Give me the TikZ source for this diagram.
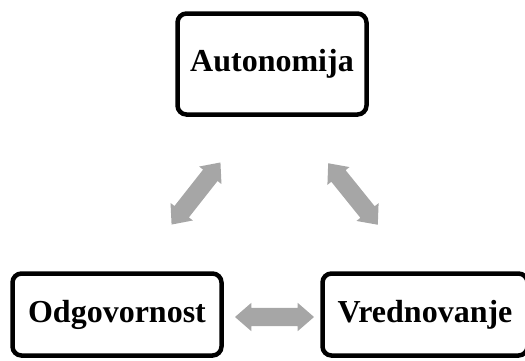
\documentclass[tikz,border=0pt]{standalone}
\usepackage{fontspec}
\setmainfont{Liberation Serif}
\usetikzlibrary{shapes.arrows}
\definecolor{arrgray}{HTML}{A6A6A6}
\tikzset{
  box/.style={draw=black, line width=4.5pt, rounded corners=9pt, fill=white,
    font=\fontsize{32}{36}\selectfont\bfseries, inner sep=0pt},
  blockarrow/.style={double arrow, fill=arrgray, draw=none, inner xsep=0pt, inner ysep=9pt,
    minimum height=79pt, minimum width=28pt, double arrow head extend=5pt,
    double arrow tip angle=82},
}
\begin{document}
\begin{tikzpicture}[x=1pt,y=-1pt]
\useasboundingbox (0,0) rectangle (525,360);
\begin{scope}
\clip (0,0) rectangle (525,360);
\node[box, minimum width=189pt, minimum height=101pt] (aut) at (272,64) {Autonomija};
\node[box, minimum width=209pt, minimum height=82pt] (odg) at (117,314.5) {Odgovornost};
\node[box, minimum width=205pt, minimum height=82pt] (vre) at (425,314.5) {Vrednovanje};
\end{scope}
\node[blockarrow, rotate=51.8] (aOA) at (196,193.5) {};
\node[blockarrow, rotate=-51.1] (aAV) at (353,194) {};
\node[blockarrow] (aOV) at (274.5,317) {};
\end{tikzpicture}
\end{document}
